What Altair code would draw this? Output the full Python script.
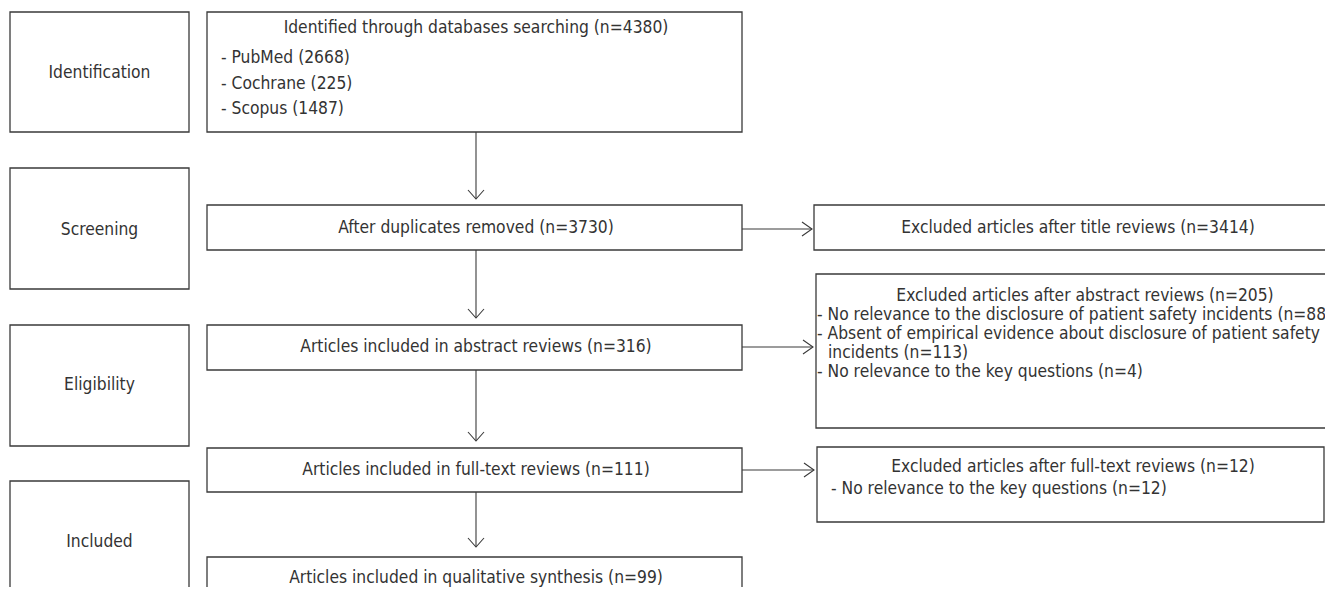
import altair as alt
import pandas as pd

FONT = "Liberation Sans Narrow, Arial Narrow, DejaVu Sans Condensed, Roboto Condensed, sans-serif"
LINE = "#3a3a3a"
TEXT = "#333333"
FS = 17.3

# ---- stage boxes (left column) ----
stage_names = ["Identification", "Screening", "Eligibility", "Included"]
stage_left = [10, 10, 10, 10]
stage_right = [189, 189, 189, 189]
stage_top = [12, 168, 325, 481]
stage_bottom = [132, 289, 446, 620]
stage_label_y = [73, 230, 385, 542]

# ---- flow boxes (middle column) ----
flow_left = [207, 207, 207, 207, 207]
flow_right = [742, 742, 742, 742, 742]
flow_top = [12, 205, 325, 448, 557]
flow_bottom = [132, 250, 370, 492, 620]

# ---- exclusion boxes (right column) ----
excl_left = [814, 816, 817]
excl_right = [1345, 1345, 1324]
excl_top = [205, 274, 447]
excl_bottom = [250, 428, 522]

# ---- centred text lines ----
center_text = [
    "Identified through databases  searching (n=4380)",
    "After duplicates removed (n=3730)",
    "Articles included in abstract reviews (n=316)",
    "Articles included in full-text reviews (n=111)",
    "Articles included in qualitative synthesis (n=99)",
    "Excluded articles after title reviews (n=3414)",
    "Excluded articles after abstract reviews (n=205)",
    "Excluded articles after full-text reviews (n=12)",
]
center_x = [476, 476, 476, 476, 476, 1078, 1085, 1073]
center_y = [28, 228, 347, 470, 578, 228, 296, 467]

# ---- left-aligned text lines ----
left_text = [
    "- PubMed (2668)",
    "- Cochrane (225)",
    "- Scopus (1487)",
    "- No relevance to the disclosure of patient safety incidents (n=88)",
    "- Absent of empirical evidence about disclosure of patient safety",
    "incidents (n=113)",
    "- No relevance to the key questions (n=4)",
    "- No relevance to the key questions (n=12)",
]
left_x = [221, 221, 221, 817, 817, 828, 817, 831]
left_y = [58, 84, 109, 315, 334, 353, 372, 489]

# ---- arrows ----
v_arrow_x = [476, 476, 476, 476]
v_arrow_from = [132, 250, 370, 492]
v_arrow_to = [199, 318, 441, 547]
h_arrow_y = [229, 347, 470]
h_arrow_from = [742, 742, 742]
h_arrow_to = [812, 813, 814]

xs = alt.Scale(domain=[8, 1325], nice=False, zero=False)
ys = alt.Scale(domain=[8, 587], nice=False, zero=False, reverse=True)

boxes = pd.DataFrame({
    "l": stage_left + flow_left + excl_left,
    "r": stage_right + flow_right + excl_right,
    "t": stage_top + flow_top + excl_top,
    "b": stage_bottom + flow_bottom + excl_bottom,
})

box_layer = alt.Chart(boxes).mark_rect(
    fill="white", stroke=LINE, strokeWidth=1.3, clip=True
).encode(
    x=alt.X("l:Q", scale=xs, axis=None),
    x2="r:Q",
    y=alt.Y("t:Q", scale=ys, axis=None),
    y2="b:Q",
)

varrows = pd.DataFrame({"x": v_arrow_x, "y1": v_arrow_from, "y2": v_arrow_to})
harrows = pd.DataFrame({"y": h_arrow_y, "x1": h_arrow_from, "x2": h_arrow_to})

v_rules = alt.Chart(varrows).mark_rule(color=LINE, strokeWidth=1.1).encode(
    x=alt.X("x:Q", scale=xs, axis=None),
    y=alt.Y("y1:Q", scale=ys, axis=None),
    y2="y2:Q",
)
h_rules = alt.Chart(harrows).mark_rule(color=LINE, strokeWidth=1.1).encode(
    x=alt.X("x1:Q", scale=xs, axis=None),
    x2="x2:Q",
    y=alt.Y("y:Q", scale=ys, axis=None),
)

v_heads = alt.Chart(varrows).mark_point(
    shape="M-1,-1.125L0,0L1,-1.125", filled=False, size=256,
    color=LINE, strokeWidth=1.1, opacity=1
).encode(
    x=alt.X("x:Q", scale=xs, axis=None),
    y=alt.Y("y2:Q", scale=ys, axis=None),
)
h_heads = alt.Chart(harrows).mark_point(
    shape="M-1.25,-0.875L0,0L-1.25,0.875", filled=False, size=256,
    color=LINE, strokeWidth=1.1, opacity=1
).encode(
    x=alt.X("x2:Q", scale=xs, axis=None),
    y=alt.Y("y:Q", scale=ys, axis=None),
)

stage_df = pd.DataFrame({"text": stage_names,
                         "x": [(a + b) / 2 for a, b in zip(stage_left, stage_right)],
                         "y": stage_label_y})
stage_text = alt.Chart(stage_df).mark_text(
    font=FONT, fontSize=FS, color=TEXT, align="center", baseline="middle"
).encode(
    x=alt.X("x:Q", scale=xs, axis=None),
    y=alt.Y("y:Q", scale=ys, axis=None),
    text="text:N",
)

cdf = pd.DataFrame({"text": center_text, "x": center_x, "y": center_y})
c_text = alt.Chart(cdf).mark_text(
    font=FONT, fontSize=FS, color=TEXT, align="center", baseline="middle", clip=True
).encode(
    x=alt.X("x:Q", scale=xs, axis=None),
    y=alt.Y("y:Q", scale=ys, axis=None),
    text="text:N",
)

ldf = pd.DataFrame({"text": left_text, "x": left_x, "y": left_y})
l_text = alt.Chart(ldf).mark_text(
    font=FONT, fontSize=FS, color=TEXT, align="left", baseline="middle", clip=True
).encode(
    x=alt.X("x:Q", scale=xs, axis=None),
    y=alt.Y("y:Q", scale=ys, axis=None),
    text="text:N",
)

chart = alt.layer(
    box_layer, v_rules, h_rules, v_heads, h_heads, stage_text, c_text, l_text
).properties(
    width=1317, height=579, padding=0, autosize="none", background="white"
).configure_view(strokeWidth=0)

chart.save("out.html", embed_options={"renderer": "svg", "actions": False})
